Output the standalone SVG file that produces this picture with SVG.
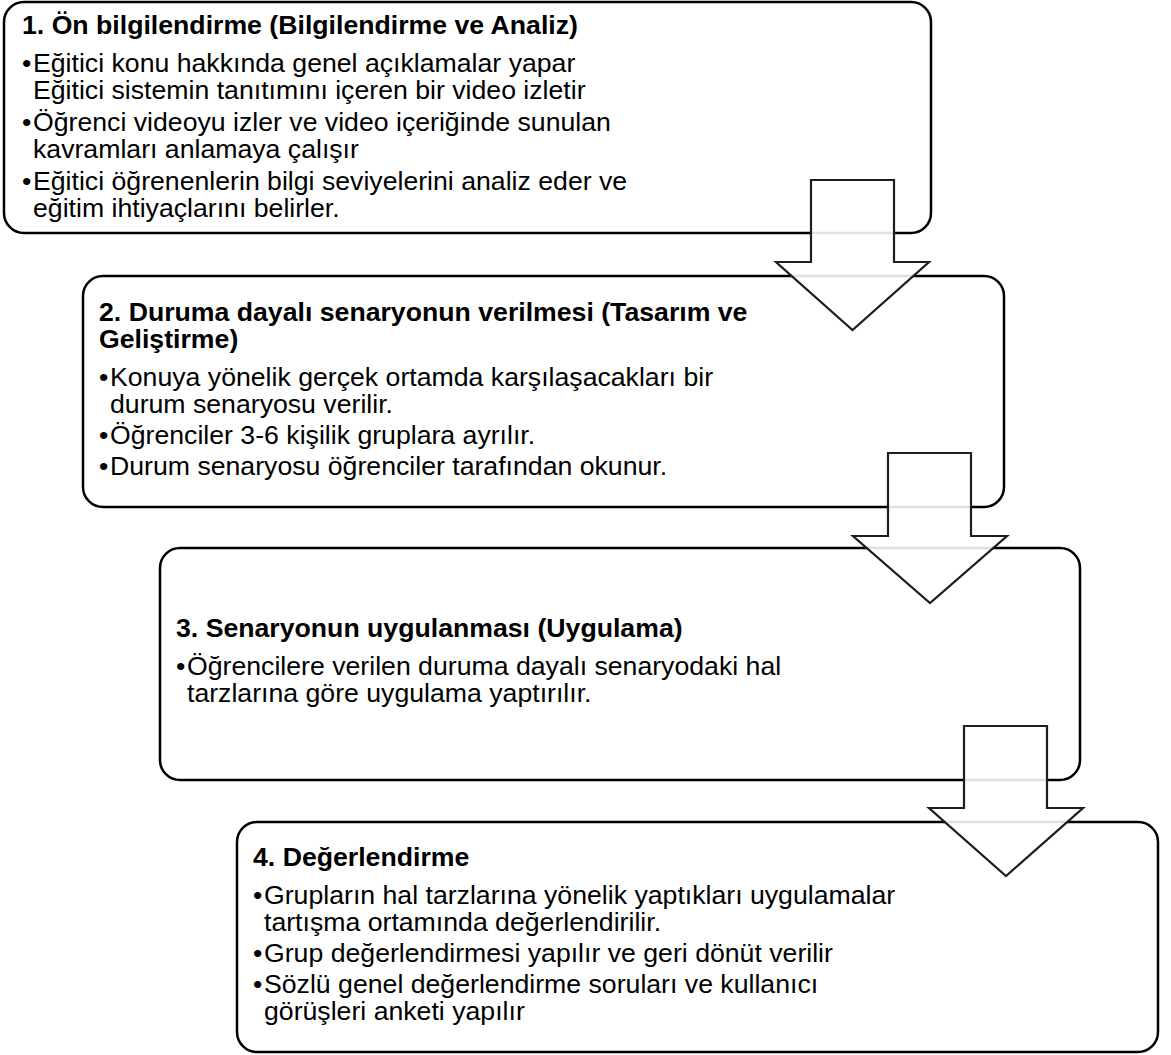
<svg xmlns="http://www.w3.org/2000/svg" width="1171" height="1055" viewBox="0 0 1171 1055">
<style>
.box{fill:#fff;stroke:#000;stroke-width:2.5}
.arr{fill:#fff;fill-opacity:0.88;stroke:#1e1e1e;stroke-width:2.2;stroke-linejoin:miter}
.t{font-family:"Liberation Sans",Arial,sans-serif;font-size:26.67px;fill:#000}
.h{font-weight:bold}
</style>
<rect width="1171" height="1055" fill="#fff"/>
<g id="node1">
<rect class="box" x="4" y="2" width="927" height="231" rx="20"/>
<text class="t h" x="22" y="34">1. Ön bilgilendirme (Bilgilendirme ve Analiz)</text>
<text class="t" y="72"><tspan x="22">•</tspan><tspan x="33">Eğitici konu hakkında genel açıklamalar yapar</tspan><tspan x="33" dy="27">Eğitici sistemin tanıtımını içeren bir video izletir</tspan></text>
<text class="t" y="131"><tspan x="22">•</tspan><tspan x="33">Öğrenci videoyu izler ve video içeriğinde sunulan</tspan><tspan x="33" dy="27">kavramları anlamaya çalışır</tspan></text>
<text class="t" y="190"><tspan x="22">•</tspan><tspan x="33">Eğitici öğrenenlerin bilgi seviyelerini analiz eder ve</tspan><tspan x="33" dy="27">eğitim ihtiyaçlarını belirler.</tspan></text>
</g>
<g id="node2">
<rect class="box" x="83" y="276" width="921" height="231" rx="20"/>
<text class="t h" y="321"><tspan x="99">2. Duruma dayalı senaryonun verilmesi (Tasarım ve</tspan><tspan x="99" dy="27">Geliştirme)</tspan></text>
<text class="t" y="386"><tspan x="99">•</tspan><tspan x="110">Konuya yönelik gerçek ortamda karşılaşacakları bir</tspan><tspan x="110" dy="27">durum senaryosu verilir.</tspan></text>
<text class="t" y="444"><tspan x="99">•</tspan><tspan x="110">Öğrenciler 3-6 kişilik gruplara ayrılır.</tspan></text>
<text class="t" y="475"><tspan x="99">•</tspan><tspan x="110">Durum senaryosu öğrenciler tarafından okunur.</tspan></text>
</g>
<g id="node3">
<rect class="box" x="160" y="548" width="920" height="232" rx="20"/>
<text class="t h" x="176" y="637">3. Senaryonun uygulanması (Uygulama)</text>
<text class="t" y="675"><tspan x="176">•</tspan><tspan x="187">Öğrencilere verilen duruma dayalı senaryodaki hal</tspan><tspan x="187" dy="27">tarzlarına göre uygulama yaptırılır.</tspan></text>
</g>
<g id="node4">
<rect class="box" x="237" y="822" width="921" height="230" rx="20"/>
<text class="t h" x="253" y="866">4. Değerlendirme</text>
<text class="t" y="904"><tspan x="253">•</tspan><tspan x="264">Grupların hal tarzlarına yönelik yaptıkları uygulamalar</tspan><tspan x="264" dy="27">tartışma ortamında değerlendirilir.</tspan></text>
<text class="t" y="962"><tspan x="253">•</tspan><tspan x="264">Grup değerlendirmesi yapılır ve geri dönüt verilir</tspan></text>
<text class="t" y="993"><tspan x="253">•</tspan><tspan x="264">Sözlü genel değerlendirme soruları ve kullanıcı</tspan><tspan x="264" dy="27">görüşleri anketi yapılır</tspan></text>
</g>
<g id="connectors">
<polygon class="arr" points="811,180 894,180 894,262 929,262 852.5,330 776,262 811,262"/>
<polygon class="arr" points="888,453 971,453 971,536 1007,536 930,603 853,536 888,536"/>
<polygon class="arr" points="964,726 1047,726 1047,808 1083,808 1006,876 929,808 964,808"/>
</g>
</svg>
